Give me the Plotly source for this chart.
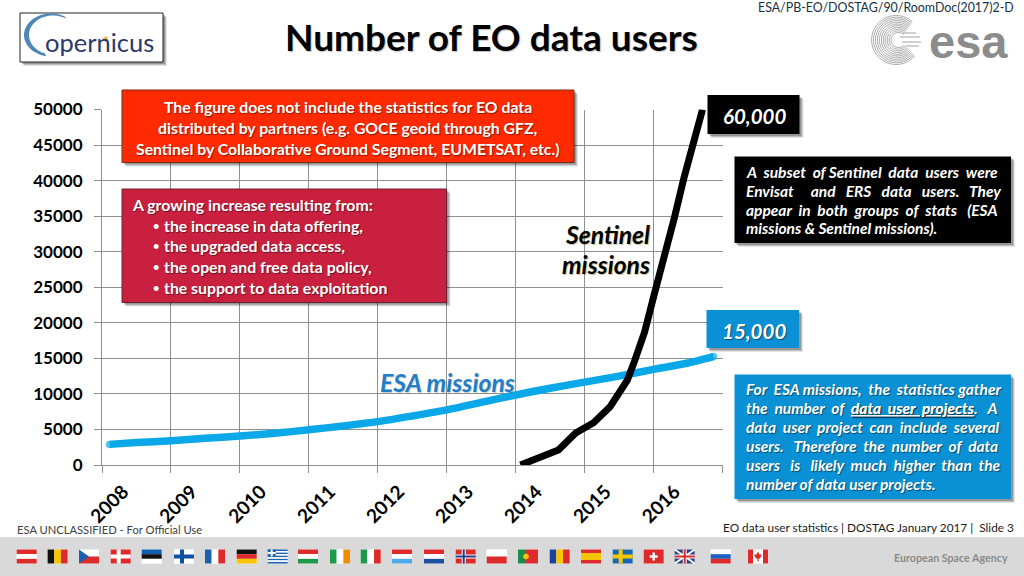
import math
import plotly.graph_objects as go

# ---------- data ----------
esa_x = [2008.11, 2008.5, 2009, 2009.5, 2010, 2010.5, 2011, 2011.5, 2012, 2012.5, 2013, 2013.5, 2014, 2014.5, 2015, 2015.5, 2016, 2016.5, 2016.87]
esa_y = [2900, 3150, 3420, 3750, 4080, 4450, 4950, 5500, 6100, 6900, 7750, 8800, 9850, 10800, 11650, 12500, 13450, 14350, 15250]
sen_x = [2014.07, 2014.28, 2014.62, 2014.87, 2015.13, 2015.37, 2015.51, 2015.62, 2015.72, 2015.87, 2016.01, 2016.16, 2016.30, 2016.44, 2016.59, 2016.71]
sen_y = [0, 800, 2110, 4500, 5950, 8200, 10100, 11950, 14500, 18700, 24000, 29100, 34700, 40350, 46000, 50000]
year_ticks = [2008, 2009, 2010, 2011, 2012, 2013, 2014, 2015, 2016, 2017]
year_text = ["2008", "2009", "2010", "2011", "2012", "2013", "2014", "2015", "2016", ""]
y_ticks = [0, 5000, 10000, 15000, 20000, 25000, 30000, 35000, 40000, 45000, 50000]
y_text = ["0", "5000", "10000", "15000", "20000", "25000", "30000", "35000", "40000", "45000", "50000"]

FONT = "Lato"
NB = "\u00a0"


def X(p):
    return p / 1024


def Y(p):
    return 1 - p / 576


shapes = []
annots = []


def rect(x0, y0, x1, y1, fill, line=None, lw=1):
    shapes.append(dict(type="rect", xref="paper", yref="paper", x0=X(x0), x1=X(x1), y0=Y(y0), y1=Y(y1),
                       fillcolor=fill, line=dict(color=line or fill, width=lw if line else 0), layer="above"))


def poly(pts, fill=None, line=None, lw=1, close=True):
    d = "M" + " L".join(f"{X(a):.5f},{Y(b):.5f}" for a, b in pts) + (" Z" if close else "")
    shapes.append(dict(type="path", xref="paper", yref="paper", path=d, fillcolor=fill if fill else "rgba(0,0,0,0)",
                       line=dict(color=line or "rgba(0,0,0,0)", width=lw if line else 0), layer="above"))


def box(x0, y0, x1, y1, fill, line=None):
    for i, a in ((4, .10), (3, .16), (2, .22)):
        rect(x0 + i, y0 + i, x1 + i, y1 + i, f"rgba(0,0,0,{a})")
    rect(x0, y0, x1, y1, fill, line, 1)


def text(s, x, y, size, color, anchor="left", bold=False, italic=False, family=FONT, shadow=None):
    f = dict(family=family, size=size, color=color, weight=700 if bold else 400, style="italic" if italic else "normal")
    if shadow:
        f["shadow"] = shadow
    annots.append(dict(text=s, xref="paper", yref="paper", x=X(x), y=Y(y), xanchor=anchor, yanchor="middle",
                       showarrow=False, font=f, borderpad=0, borderwidth=0))


# ---------- boxes ----------
WS = "1px 1px 1px rgba(0,0,0,0.45)"
box(122, 90, 574, 162.5, "#FF2A00", "#7a2a1a")
for s, yy in (("The figure does not include the statistics for EO data", 107),
              ("distributed by partners (e.g. GOCE geoid through GFZ,", 127.5),
              ("Sentinel by Collaborative Ground Segment, EUMETSAT, etc.)", 148)):
    text(s, 348, yy, 15.8, "white", "center", bold=True, shadow=WS)

box(122, 189, 446.5, 302.5, "#C9203F", "#6e2030")
text("A growing increase resulting from:", 132, 204.5, 15.8, "white", bold=True, shadow=WS)
for s, yy in (("the increase in data offering,", 225), ("the upgraded data access,", 246),
              ("the open and free data policy,", 266.5), ("the support to data exploitation", 287)):
    text("\u2022", 153, yy, 11, "white", bold=True)
    text(s, 164, yy, 15.8, "white", bold=True, shadow=WS)

box(707.5, 95, 799.5, 134, "#000000")
text("60,000", 754, 115.5, 20.5, "white", "center", bold=True, italic=True, shadow=WS)
box(706.5, 310, 799, 348, "#0A90D5")
text("15,000", 753.5, 330.5, 20.5, "white", "center", bold=True, italic=True, shadow=WS)

box(734.5, 156.5, 1011, 243, "#000000")
black_lines = [("A" + NB*2 + "subset" + NB*2 + "of" + NB + "Sentinel" + NB*2 + "data" + NB*2 + "users" + NB*2 + "were", 172),
               ("Envisat" + NB*5 + "and" + NB*3 + "ERS" + NB*3 + "data" + NB*3 + "users." + NB*3 + "They", 191),
               ("appear" + NB*2 + "in" + NB*2 + "both" + NB*2 + "groups" + NB*2 + "of" + NB*2 + "stats" + NB*3 + "(ESA", 210),
               ("missions & Sentinel missions).", 228.5)]
for s, yy in black_lines:
    text(s, 745.5, yy, 15.5, "white", bold=True, italic=True, shadow=WS)

box(734.5, 374.5, 1011, 499, "#0A90D5")
blue_lines = [("For" + NB*2 + "ESA missions," + NB*2 + "the" + NB*2 + "statistics gather", 389),
              ("the" + NB*2 + "number" + NB*2 + "of" + NB*2 + "<u>data" + NB*2 + "user" + NB*2 + "projects</u>." + NB*3 + "A", 408),
              ("data" + NB*2 + "user" + NB*2 + "project" + NB*2 + "can" + NB*2 + "include" + NB*2 + "several", 427),
              ("users." + NB*3 + "Therefore" + NB*2 + "the" + NB*2 + "number" + NB*2 + "of" + NB*2 + "data", 446),
              ("users" + NB*3 + "is" + NB*3 + "likely" + NB*2 + "much" + NB*2 + "higher" + NB*2 + "than" + NB*2 + "the", 465),
              ("number of data user projects.", 483.5)]
for s, yy in blue_lines:
    text(s, 745.5, yy, 15.5, "white", bold=True, italic=True, shadow=WS)

# ---------- labels on the chart ----------
text("ESA missions", 447.5, 382, 24.8, "#1E7FC6", "center", bold=True, italic=True, shadow="1px 1px 1px rgba(0,0,0,0.2)")
text("Sentinel", 650, 234, 24.7, "#000000", "right", bold=True, italic=True, shadow="1px 1px 1px rgba(120,100,0,0.4)")
text("missions", 650, 264.5, 24.7, "#000000", "right", bold=True, italic=True, shadow="1px 1px 1px rgba(120,100,0,0.4)")

# ---------- header / footer text ----------
text("Number of EO data users", 491, 36.5, 37, "#000000", "center", bold=True, shadow="1px 1px 1px rgba(0,0,0,0.25)")
text("ESA/PB-EO/DOSTAG/90/RoomDoc(2017)2-D", 1014, 7.5, 12.4, "#17303f", "right")
text("ESA UNCLASSIFIED - For Official Use", 17, 529.5, 11.2, "#404040")
text("EO data user statistics | DOSTAG January 2017 |" + NB*2 + "Slide 3", 1014, 527.5, 11.8, "#1a1a1a", "right")
rect(0, 537, 1024, 576, "#D9D9D9")
text("European Space Agency", 1008, 557.5, 10.7, "#8a8a8a", "right", bold=True)

# ---------- Copernicus logo ----------
box(20, 13, 163, 62, "#FFFFFF", "#222222")
outer = [(51 + 27 * math.cos(math.radians(a)), 35 + 21.5 * math.sin(math.radians(a))) for a in range(-60, -261, -5)]
inner = [(53 + 24 * math.cos(math.radians(a)), 35 + 19.5 * math.sin(math.radians(a))) for a in range(-250, -50, 5)]
poly(outer + inner, fill="#4E86B8")
text("opernicus", 99.5, 42, 25.5, "#2A3A6A", "center", family="Lato")
poly([(105.5 + 2.6 * math.cos(a / 6 * math.pi), 39 + 2.6 * math.sin(a / 6 * math.pi)) for a in range(12)], fill="#F0C030")

# ---------- esa logo ----------
GR = "#a2a2a2"
for r10 in range(75, 255, 17):
    r = r10 / 10
    pts = [(896 + r * math.cos(math.radians(a)) + (25 - r) * .15, 40 + r * math.sin(math.radians(a))) for a in range(40, 320, 8)]
    poly(pts, line=GR, lw=0.9, close=False)
for yy, x0, x1 in ((33, 903, 916), (37, 900, 920), (42, 902, 921), (46, 906, 919)):
    poly([(x0, yy), (x1, yy)], line=GR, lw=1, close=False)
text("esa", 968, 41, 47, "#8c8c8c", "center", bold=True, family="Liberation Sans")

# ---------- flags ----------
R, W, B, G, Y_, K = "#DD2A2A", "#FFFFFF", "#1A5FB0", "#1E9A4A", "#F7C400", "#111111"
flags = [("at", 26.7), ("be", 57.6), ("cz", 89), ("dk", 120.7), ("ee", 151.7), ("fi", 184), ("fr", 215), ("de", 246.7),
         ("gr", 277.7), ("hu", 308), ("ie", 340), ("it", 370.7), ("lu", 402), ("nl", 434), ("no", 465.7), ("pl", 496.7),
         ("pt", 528), ("ro", 559.7), ("es", 591), ("se", 622.7), ("ch", 653.7), ("gb", 684.7), ("si", 720.7), ("ca", 758)]
hs = {"at": [R, W, R], "ee": ["#0F5FB0", K, W], "de": [K, R, Y_], "hu": [R, W, G], "lu": [R, W, "#4FA8E8"], "nl": [R, W, "#1F4FA0"],
      "pl": [W, R], "si": [W, "#1F5FC0", R], "es": [R, Y_, R]}
vs = {"be": [K, Y_, R], "fr": [B, W, R], "ie": [G, W, "#F08C00"], "it": [G, W, R], "ro": ["#1F3F9F", Y_, R]}
for code, cx in flags:
    l, r_, t, b = cx - 10, cx + 10, 549.5, 563.5
    rect(l, t, r_, b, W)
    if code in hs:
        st = hs[code]
        if code == "es":
            rect(l, t, r_, t + 3.5, R); rect(l, t + 3.5, r_, b - 3.5, Y_); rect(l, b - 3.5, r_, b, R)
        else:
            h = 14 / len(st)
            for i, c in enumerate(st):
                rect(l, t + i * h, r_, t + (i + 1) * h, c)
    elif code in vs:
        st = vs[code]
        for i, c in enumerate(st):
            rect(l + i * 20 / 3, t, l + (i + 1) * 20 / 3, b, c)
    elif code == "cz":
        rect(l, t + 7, r_, b, R); poly([(l, t), (l + 10, t + 7), (l, b)], fill=B)
    elif code in ("dk", "no", "se", "fi"):
        bg, cr = {"dk": (R, W), "no": (R, W), "se": ("#1767B0", "#F7C800"), "fi": (W, "#1050A0")}[code]
        rect(l, t, r_, b, bg)
        rect(l + 6, t, l + 10, b, cr); rect(l, t + 5, r_, t + 9, cr)
        if code == "no":
            rect(l + 7, t, l + 9, b, "#1F3F8F"); rect(l, t + 6, r_, t + 8, "#1F3F8F")
    elif code == "gr":
        for i in range(9):
            rect(l, t + i * 14 / 9, r_, t + (i + 1) * 14 / 9, "#1F62B0" if i % 2 == 0 else W)
        rect(l, t, l + 8, t + 7, "#1F62B0"); rect(l + 3, t, l + 5, t + 7, W); rect(l, t + 2.5, l + 8, t + 4.5, W)
    elif code == "pt":
        rect(l, t, l + 8, b, "#1E8A4A"); rect(l + 8, t, r_, b, R)
        poly([(l + 8 + 3 * math.cos(a / 4 * math.pi), t + 7 + 3 * math.sin(a / 4 * math.pi)) for a in range(8)], fill=Y_)
    elif code == "ch":
        rect(l, t, r_, b, R); rect(cx - 1.2, t + 3, cx + 1.2, b - 3, W); rect(cx - 4, t + 5.8, cx + 4, t + 8.2, W)
    elif code == "gb":
        rect(l, t, r_, b, "#2A3F80")
        poly([(l, t), (r_, b)], line=W, lw=2, close=False); poly([(l, b), (r_, t)], line=W, lw=2, close=False)
        rect(cx - 2, t, cx + 2, b, W); rect(l, t + 5, r_, t + 9, W)
        rect(cx - 1, t, cx + 1, b, R); rect(l, t + 6, r_, t + 8, R)
    elif code == "ca":
        rect(l, t, l + 5, b, R); rect(r_ - 5, t, r_, b, R)
        poly([(cx, t + 2), (cx + 1.5, t + 5), (cx + 4, t + 5), (cx + 2, t + 9), (cx + .6, t + 9), (cx + .6, b - 2), (cx - .6, b - 2), (cx - .6, t + 9), (cx - 2, t + 9), (cx - 4, t + 5), (cx - 1.5, t + 5)], fill=R)

# ---------- figure ----------
fig = go.Figure()
esa_caps = [7.5] + [0] * (len(esa_x) - 2) + [7.5]
fig.add_trace(go.Scatter(x=esa_x, y=esa_y, mode="lines+markers", name="ESA missions",
                         line=dict(color="#0AA8E8", width=7.5, shape="spline", smoothing=0.6),
                         marker=dict(color="#0AA8E8", size=esa_caps, line=dict(width=0)), hoverinfo="skip"))
fig.add_trace(go.Scatter(x=sen_x, y=sen_y, mode="lines", name="Sentinel missions", line=dict(color="#000000", width=7), hoverinfo="skip"))

GRID = "#8f8f8f"
fig.update_layout(
    width=1024, height=576, margin=dict(l=0, r=0, t=0, b=0, pad=0, autoexpand=False),
    paper_bgcolor="white", plot_bgcolor="white", showlegend=False,
    shapes=shapes, annotations=annots,
    xaxis=dict(domain=[X(102), X(722.5)], range=[2008, 2017], tickmode="array", tickvals=year_ticks, ticktext=year_text,
               tickangle=-45, tickfont=dict(family=FONT, size=19, color="#000000", weight=700),
               ticks="outside", ticklen=7, tickcolor=GRID, showline=True, linecolor=GRID, linewidth=1.2,
               showgrid=True, gridcolor=GRID, gridwidth=1.2, zeroline=False, ticklabelshift=21, ticklabelstandoff=0),
    yaxis=dict(domain=[Y(465), Y(109.5)], range=[0, 50000], tickmode="array", tickvals=y_ticks, ticktext=y_text,
               tickfont=dict(family=FONT, size=17, color="#000000", weight=700),
               ticks="outside", ticklen=7, tickcolor=GRID, showline=True, linecolor=GRID, linewidth=1.2,
               showgrid=True, gridcolor=GRID, gridwidth=1.2, zeroline=False, ticklabelstandoff=8),
)
fig.write_html("out.html", config={"displayModeBar": False},
               post_script="document.body.style.margin='0';document.body.style.overflow='hidden';")
